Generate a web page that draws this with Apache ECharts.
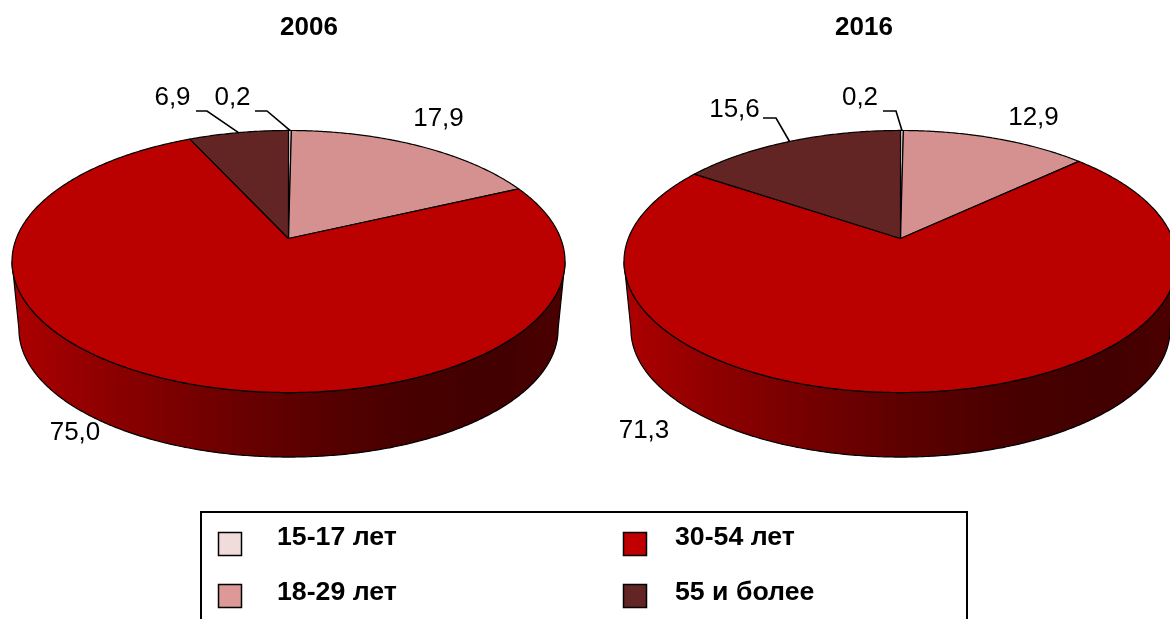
<!DOCTYPE html>
<html>
<head>
<meta charset="utf-8">
<style>
  html, body { margin: 0; padding: 0; background: #fff; }
  #chart { width: 1170px; height: 619px; overflow: hidden; }
</style>
<script src="https://cdn.jsdelivr.net/npm/echarts@6/dist/echarts.min.js"></script>
</head>
<body>
<div id="chart"></div>
<script>
// данные диаграмм
const years = ['2006', '2016']
const categories = ['15-17 лет', '18-29 лет', '30-54 лет', '55 и более']
const values2006 = [0.2, 17.9, 75.0, 6.9]
const values2016 = [0.2, 12.9, 71.3, 15.6]

const colors = ['#f2dcdb', '#d59190', '#bb0000', '#632523']
const legendColors = ['#f2dcdb', '#dc9998', '#c00000', '#632523']
const font = '"Liberation Sans", Arial, sans-serif'

// геометрия псевдо-3D круга (перспектива как в Excel)
const pieCenters = [288.5, 900.5]
const apexY = 238.5
const radiusX = 272.2
const radiusY = 127
const persp = 0.1756
const rimCy = 261.5
const wallScale = 0.975
const wallCy = 329.3
const wallFrom = 100.1
const wallTo = 259.9

// положение подписей: центр текста и излом выноски (если есть)
const labels2006 = [
  {x: 232.5, y: 98, line: [[255, 111], [267, 111]]},
  {x: 438.5, y: 119},
  {x: 75, y: 433},
  {x: 172.5, y: 98, line: [[196, 111], [207, 111]]}
]
const labels2016 = [
  {x: 860, y: 98, line: [[883, 111], [896, 111]]},
  {x: 1033.5, y: 118},
  {x: 644, y: 431},
  {x: 734.5, y: 110, line: [[763, 118], [776, 118]]}
]

// точка на верхней кромке для угла в градусах (0 - вверх, по часовой)
function rimPoint (cx, deg) {
  let a = deg * Math.PI / 180
  let u = Math.sin(a)
  let v = -Math.cos(a)
  let w = 1 / (1 - persp * v)
  return [cx + radiusX * u * w, apexY + radiusY * v * w]
}

function wallPoint (cx, p) {
  return [cx + (p[0] - cx) * wallScale, wallCy + (p[1] - rimCy) * wallScale]
}

function arc (cx, from, to) {
  let pts = []
  let n = Math.max(2, Math.ceil((to - from) * 2))
  for (let i = 0; i <= n; i++) {
    pts.push(rimPoint(cx, from + (to - from) * i / n))
  }
  return pts
}

function makeRender (values, cx, labelPos) {
  const total = values.reduce((a, b) => a + b, 0)
  return function (params, api) {
    let i = params.dataIndex
    let before = values.slice(0, i).reduce((a, b) => a + b, 0)
    let from = before / total * 360
    let to = (before + api.value(0)) / total * 360
    let children = []

    // боковая стенка видна только спереди
    let wf = Math.max(from, wallFrom)
    let wt = Math.min(to, wallTo)
    if (wt > wf) {
      let top = arc(cx, wf, wt)
      let bottom = top.map(p => wallPoint(cx, p)).reverse()
      children.push({
        type: 'polygon',
        shape: {points: top.concat(bottom)},
        style: {
          fill: new echarts.graphic.LinearGradient(cx - 277, 0, cx + 277, 0, [
            {offset: 0, color: '#ad0000'},
            {offset: 0.16, color: '#8f0000'},
            {offset: 0.34, color: '#740000'},
            {offset: 0.5, color: '#5e0000'},
            {offset: 0.7, color: '#480000'},
            {offset: 0.88, color: '#420000'},
            {offset: 1, color: '#4c0000'}
          ], true),
          stroke: '#000',
          lineWidth: 1.2
        }
      })
    }

    // верхняя грань
    children.push({
      type: 'polygon',
      shape: {points: [[cx, apexY]].concat(arc(cx, from, to))},
      style: {fill: colors[i], stroke: '#000', lineWidth: 1.2, lineJoin: 'round'}
    })

    // выноска и подпись
    let pos = labelPos[i]
    if (pos.line) {
      let anchor = rimPoint(cx, (from + to) / 2)
      children.push({
        type: 'polyline',
        z2: 5,
        shape: {points: pos.line.concat([anchor])},
        style: {fill: null, stroke: '#000', lineWidth: 1.6}
      })
    }
    children.push({
      type: 'text',
      z2: 6,
      x: pos.x,
      y: pos.y,
      style: {
        text: api.value(0).toFixed(1).replace('.', ','),
        font: '26px ' + font,
        fill: '#000',
        align: 'center',
        verticalAlign: 'middle'
      }
    })
    return {type: 'group', children: children}
  }
}

function pieSeries (values, cx, labelPos) {
  return {
    type: 'custom',
    coordinateSystem: 'none',
    silent: true,
    clip: false,
    renderItem: makeRender(values, cx, labelPos),
    data: values.map(v => [v])
  }
}

// легенда
const legendColumns = [
  {swatch: 218, text: 277},
  {swatch: 623, text: 675}
]
const legendRows = [
  {swatch: 532, text: 538},
  {swatch: 584, text: 593}
]
const legendItems = [
  {type: 'rect', shape: {x: 201, y: 512, width: 766, height: 130}, style: {fill: '#fff', stroke: '#000', lineWidth: 2}}
]
categories.forEach(function (name, i) {
  let col = legendColumns[Math.floor(i / 2)]
  let row = legendRows[i % 2]
  legendItems.push({
    type: 'rect',
    shape: {x: col.swatch + 0.5, y: row.swatch + 0.5, width: 23, height: 23},
    style: {fill: legendColors[i], stroke: '#000', lineWidth: 1.5}
  })
  legendItems.push({
    type: 'text',
    x: col.text,
    y: row.text,
    style: {text: name, font: 'bold 26.7px ' + font, fill: '#000', align: 'left', verticalAlign: 'middle'}
  })
})

const chart = echarts.init(document.getElementById('chart'), null, {renderer: 'canvas'})
chart.setOption({
  animation: false,
  backgroundColor: '#fff',
  title: years.map((y, i) => ({
    text: y,
    left: [304, 859][i],
    top: 10,
    textAlign: 'center',
    textStyle: {fontFamily: font, fontWeight: 'bold', fontSize: 26, color: '#000'}
  })),
  graphic: {elements: legendItems},
  series: [
    pieSeries(values2006, pieCenters[0], labels2006),
    pieSeries(values2016, pieCenters[1], labels2016)
  ]
})
</script>
</body>
</html>
